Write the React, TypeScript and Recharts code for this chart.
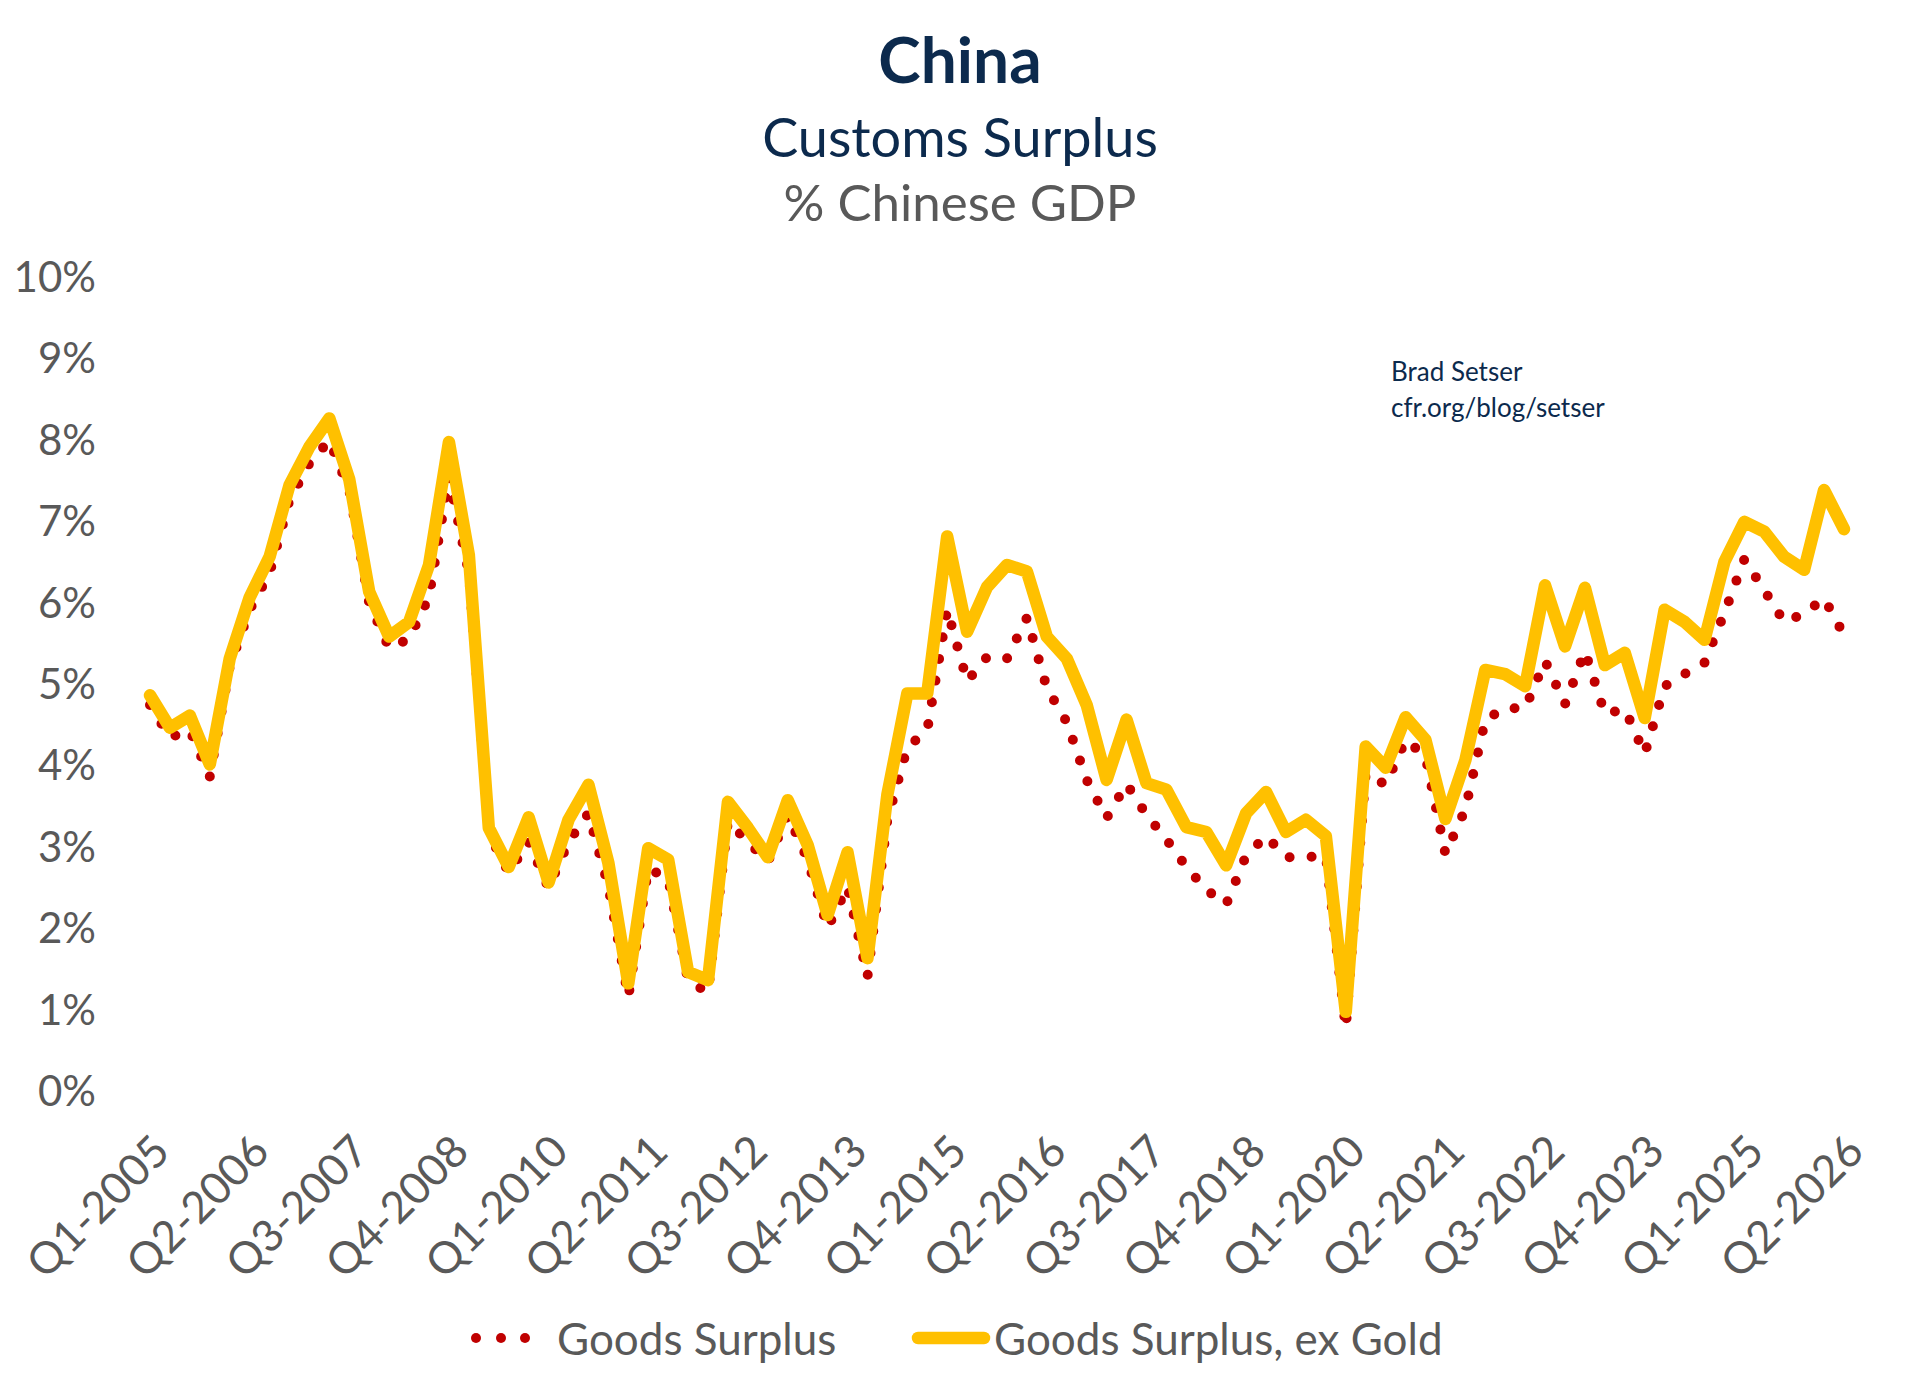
import { LineChart, Line, XAxis, YAxis } from 'recharts'

const quarters = [
  'Q1-2005', 'Q2-2005', 'Q3-2005', 'Q4-2005',
  'Q1-2006', 'Q2-2006', 'Q3-2006', 'Q4-2006',
  'Q1-2007', 'Q2-2007', 'Q3-2007', 'Q4-2007',
  'Q1-2008', 'Q2-2008', 'Q3-2008', 'Q4-2008',
  'Q1-2009', 'Q2-2009', 'Q3-2009', 'Q4-2009',
  'Q1-2010', 'Q2-2010', 'Q3-2010', 'Q4-2010',
  'Q1-2011', 'Q2-2011', 'Q3-2011', 'Q4-2011',
  'Q1-2012', 'Q2-2012', 'Q3-2012', 'Q4-2012',
  'Q1-2013', 'Q2-2013', 'Q3-2013', 'Q4-2013',
  'Q1-2014', 'Q2-2014', 'Q3-2014', 'Q4-2014',
  'Q1-2015', 'Q2-2015', 'Q3-2015', 'Q4-2015',
  'Q1-2016', 'Q2-2016', 'Q3-2016', 'Q4-2016',
  'Q1-2017', 'Q2-2017', 'Q3-2017', 'Q4-2017',
  'Q1-2018', 'Q2-2018', 'Q3-2018', 'Q4-2018',
  'Q1-2019', 'Q2-2019', 'Q3-2019', 'Q4-2019',
  'Q1-2020', 'Q2-2020', 'Q3-2020', 'Q4-2020',
  'Q1-2021', 'Q2-2021', 'Q3-2021', 'Q4-2021',
  'Q1-2022', 'Q2-2022', 'Q3-2022', 'Q4-2022',
  'Q1-2023', 'Q2-2023', 'Q3-2023', 'Q4-2023',
  'Q1-2024', 'Q2-2024', 'Q3-2024', 'Q4-2024',
  'Q1-2025', 'Q2-2025', 'Q3-2025', 'Q4-2025',
  'Q1-2026', 'Q2-2026',
]

// Goods Surplus, % of GDP (red dotted)
const goodsSurplus = [
  4.73, 4.33, 4.42, 3.85, 5.2, 5.9, 6.35, 7.25, 7.7, 7.98,
  7.37, 5.98, 5.43, 5.54, 6.06, 7.53, 6.35, 3.15, 2.67, 3.05,
  2.48, 3.05, 3.4, 2.5, 1.14, 2.72, 2.6, 1.34, 1.2, 3.3,
  3.05, 2.8, 3.38, 2.83, 1.99, 2.5, 1.39, 3.32, 4.21, 4.42,
  5.9, 5.02, 5.32, 5.3, 5.8, 4.94, 4.52, 3.81, 3.34, 3.76,
  3.38, 3.08, 2.74, 2.46, 2.28, 2.88, 3.12, 2.86, 2.86, 2.88,
  0.76, 3.89, 3.75, 4.3, 4.1, 2.9, 3.45, 4.55, 4.69, 4.69,
  5.27, 4.74, 5.39, 4.62, 4.68, 4.13, 4.96, 5.11, 5.25, 5.86,
  6.52, 6.14, 5.75, 5.85, 6.04, 5.59,
]

// Goods Surplus ex Gold, % of GDP (yellow)
const exGold = [
  4.85, 4.45, 4.6, 4.0, 5.3, 6.05, 6.55, 7.43, 7.9, 8.25,
  7.5, 6.12, 5.57, 5.75, 6.45, 7.96, 6.57, 3.22, 2.74, 3.35,
  2.55, 3.32, 3.75, 2.79, 1.31, 2.97, 2.83, 1.45, 1.35, 3.54,
  3.22, 2.86, 3.56, 3.01, 2.15, 2.92, 1.62, 3.63, 4.87, 4.87,
  6.8, 5.63, 6.18, 6.45, 6.37, 5.57, 5.3, 4.73, 3.81, 4.55,
  3.77, 3.69, 3.23, 3.17, 2.76, 3.4, 3.66, 3.17, 3.32, 3.12,
  0.96, 4.22, 3.96, 4.58, 4.3, 3.33, 4.05, 5.16, 5.11, 4.96,
  6.2, 5.45, 6.17, 5.22, 5.37, 4.57, 5.9, 5.75, 5.53, 6.49,
  6.98, 6.86, 6.55, 6.39, 7.37, 6.89,
]

const yTicks = [0, 1, 2, 3, 4, 5, 6, 7, 8, 9, 10]

const RED = '#C00000'
const YELLOW = '#FFC000'
const NAVY = '#0C2A4D'
const GRAY = '#595959'
const FONT = 'Lato, "Open Sans", sans-serif'

const data = quarters.map((q, i) => ({ q, goods: goodsSurplus[i], exGold: exGold[i] }))

function XTick({ x, y, payload }: any) {
  return (
    <text
      transform={`translate(${x + 22},${y + 56}) rotate(-45)`}
      textAnchor="end"
      fill={GRAY}
      fontSize={44}
      fontFamily={FONT}
    >
      {payload.value}
    </text>
  )
}

function YTick({ y, payload }: any) {
  return (
    <text x={96} y={y} textAnchor="end" dominantBaseline="central" fill={GRAY} fontSize={42} fontFamily={FONT}>
      {payload.value}%
    </text>
  )
}

export default function App() {
  return (
    <div style={{ position: 'absolute', left: 0, top: 0, width: 1920, height: 1393, background: '#fff', fontFamily: FONT }}>
      <div style={{ position: 'absolute', top: 20, width: 1920, textAlign: 'center', color: NAVY, fontSize: 64, fontWeight: 700, lineHeight: '78px' }}>
        China
      </div>
      <div style={{ position: 'absolute', top: 105, width: 1920, textAlign: 'center', color: NAVY, fontSize: 54, lineHeight: '64px' }}>
        Customs Surplus
      </div>
      <div style={{ position: 'absolute', top: 170, width: 1920, textAlign: 'center', color: GRAY, fontSize: 51, lineHeight: '64px' }}>
        % Chinese GDP
      </div>
      <div style={{ position: 'absolute', left: 1391, top: 353, color: NAVY, fontSize: 26, lineHeight: '36px' }}>
        Brad Setser
        <br />
        cfr.org/blog/setser
      </div>

      <div style={{ position: 'absolute', left: 0, top: 0 }}>
        <LineChart width={1920} height={1393} data={data} margin={{ top: 276, right: 76, bottom: 153, left: 0 }}>
          <XAxis
            dataKey="q"
            interval={4}
            tickLine={false}
            axisLine={false}
            height={150}
            tick={<XTick />}
          />
          <YAxis
            domain={[0, 10]}
            ticks={yTicks}
            width={150}
            tickLine={false}
            axisLine={false}
            tick={<YTick />}
          />
          <Line
            type="linear"
            dataKey="goods"
            stroke={RED}
            strokeWidth={10}
            strokeDasharray="0 22"
            strokeLinecap="round"
            dot={false}
            isAnimationActive={false}
          />
          <Line
            type="linear"
            dataKey="exGold"
            stroke={YELLOW}
            strokeWidth={12.5}
            strokeLinecap="round"
            strokeLinejoin="round"
            dot={false}
            isAnimationActive={false}
          />
        </LineChart>
      </div>

      <div style={{ position: 'absolute', left: 0, top: 1312, width: 1920, height: 52 }}>
        <svg width={1920} height={52} style={{ position: 'absolute', left: 0, top: 0 }}>
          <circle cx={476} cy={26} r={5} fill={RED} />
          <circle cx={501} cy={26} r={5} fill={RED} />
          <circle cx={525} cy={26} r={5} fill={RED} />
          <line x1={918} y1={26} x2={984} y2={26} stroke={YELLOW} strokeWidth={12.5} strokeLinecap="round" />
        </svg>
        <div style={{ position: 'absolute', left: 557, top: 0, lineHeight: '52px', fontSize: 44, color: GRAY, whiteSpace: 'nowrap' }}>
          Goods Surplus
        </div>
        <div style={{ position: 'absolute', left: 994, top: 0, lineHeight: '52px', fontSize: 44, color: GRAY, whiteSpace: 'nowrap' }}>
          Goods Surplus, ex Gold
        </div>
      </div>
    </div>
  )
}
